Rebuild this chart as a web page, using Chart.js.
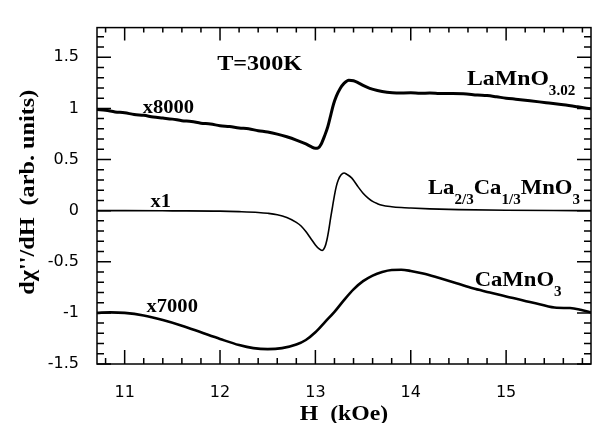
<!DOCTYPE html>
<html>
<head>
<meta charset="utf-8">
<script src="https://cdn.jsdelivr.net/npm/chart.js@4.4.1/dist/chart.umd.min.js"></script>
<style>
html, body { margin: 0; padding: 0; background: #fff; }
</style>
</head>
<body>
<canvas id="esr-chart" width="594" height="423"></canvas>
<script>
// field (kOe) and dchi''/dH for each sample, already scaled by the gain in the labels
const fieldLaMnO = [10.71, 10.8, 10.9, 11.0, 11.1, 11.2, 11.3, 11.4, 11.5, 11.6, 11.7, 11.8, 11.9, 12.0,
  12.1, 12.2, 12.3, 12.4, 12.5, 12.6, 12.7, 12.8, 12.9, 12.95, 13.0, 13.03, 13.06, 13.1, 13.13, 13.16,
  13.19, 13.22, 13.26, 13.3, 13.35, 13.4, 13.45, 13.5, 13.57, 13.65, 13.75, 13.85, 14.0, 14.1, 14.2,
  14.3, 14.4, 14.55, 14.7, 14.8, 14.9, 15.0, 15.1, 15.25, 15.42, 15.6, 15.75, 15.89];
const signalLaMnO = [0.99, 0.982, 0.965, 0.957, 0.94, 0.932, 0.915, 0.905, 0.895, 0.88, 0.872, 0.855, 0.848, 0.83,
  0.822, 0.808, 0.8, 0.782, 0.768, 0.748, 0.722, 0.69, 0.652, 0.628, 0.61, 0.614, 0.65, 0.74, 0.82, 0.93,
  1.04, 1.12, 1.195, 1.245, 1.275, 1.27, 1.25, 1.225, 1.196, 1.175, 1.158, 1.15, 1.152, 1.147, 1.15,
  1.146, 1.145, 1.143, 1.13, 1.125, 1.113, 1.1, 1.09, 1.075, 1.055, 1.035, 1.015, 0.995];

const fieldLaCa = [10.71, 11.0, 11.5, 12.0, 12.2, 12.4, 12.5, 12.6, 12.7, 12.8, 12.85, 12.9, 12.95, 13.0,
  13.04, 13.07, 13.1, 13.12, 13.14, 13.16, 13.18, 13.2, 13.22, 13.24, 13.27, 13.3, 13.33, 13.38, 13.45,
  13.5, 13.55, 13.6, 13.65, 13.7, 13.8, 13.9, 14.0, 14.2, 14.5, 15.0, 15.5, 15.89];
const signalLaCa = [0.0, 0.0, -0.002, -0.005, -0.01, -0.018, -0.026, -0.04, -0.068, -0.115, -0.15, -0.205, -0.27, -0.335,
  -0.375, -0.39, -0.355, -0.29, -0.19, -0.07, 0.04, 0.15, 0.24, 0.3, 0.35, 0.368, 0.355, 0.32, 0.23,
  0.17, 0.125, 0.09, 0.068, 0.052, 0.038, 0.03, 0.025, 0.017, 0.01, 0.004, 0.001, 0.0];

const fieldCaMnO = [10.71, 10.85, 11.0, 11.2, 11.4, 11.6, 11.8, 12.0, 12.2, 12.35, 12.5, 12.65, 12.8, 12.9,
  13.0, 13.1, 13.2, 13.3, 13.4, 13.5, 13.6, 13.7, 13.8, 13.9, 14.0, 14.13, 14.3, 14.48, 14.65, 14.83,
  15.0, 15.18, 15.35, 15.53, 15.67, 15.78, 15.89];
const signalCaMnO = [-1.0, -0.995, -1.0, -1.025, -1.07, -1.125, -1.19, -1.255, -1.315, -1.345, -1.355, -1.345, -1.31, -1.265,
  -1.19, -1.09, -0.99, -0.875, -0.77, -0.69, -0.635, -0.6, -0.58, -0.578, -0.59, -0.615, -0.66, -0.71, -0.76, -0.8,
  -0.84, -0.878, -0.915, -0.95, -0.953, -0.97, -0.997];

const xTickValues = [11, 12, 13, 14, 15];
const yTickValues = [-1.5, -1, -0.5, 0, 0.5, 1, 1.5];

const toPoints = (xs, ys) => xs.map((x, i) => ({x: x, y: ys[i]}));

// text next to the curves: [text, font size, baseline shift] runs, anchored in data units
const notes = [
  {x: 11.97, y: 1.378, sx: 1.15, runs: [["T=300K", 21, 0]]},
  {x: 11.19, y: 0.959, runs: [["x8000", 19, 0]]},
  {x: 11.27, y: 0.04, runs: [["x1", 19, 0]]},
  {x: 11.23, y: -0.99, runs: [["x7000", 19, 0]]},
  {x: 14.59, y: 1.231, runs: [["LaMnO", 22, 0], ["3.02", 14, 10]]},
  {x: 14.18, y: 0.162, runs: [["La", 21, 0], ["2/3", 14, 10], ["Ca", 21, 0], ["1/3", 14, 10], ["MnO", 21, 0], ["3", 14, 10]]},
  {x: 14.67, y: -0.74, runs: [["CaMnO", 21, 0], ["3", 14, 10]]}
];

const serif = "'Liberation Serif', 'Times New Roman', serif";
const stretch = 1.08;

const drawRuns = (ctx, x, y, runs, sx) => {
  ctx.save();
  ctx.translate(x, y);
  ctx.scale(sx, 1);
  let cx = 0;
  runs.forEach(r => {
    ctx.font = "bold " + r[1] + "px " + serif;
    ctx.fillText(r[0], cx, r[2]);
    cx += ctx.measureText(r[0]).width;
  });
  ctx.restore();
};

// box, inward ticks on all four sides, labels and axis titles
const framePlugin = {
  id: "frame",
  afterDraw(chart) {
    const ctx = chart.ctx;
    const a = chart.chartArea;
    const xs = chart.scales.x;
    const ys = chart.scales.y;
    ctx.save();
    ctx.strokeStyle = "#000";
    ctx.lineWidth = 1.5;
    ctx.strokeRect(a.left, a.top, a.right - a.left, a.bottom - a.top);

    ctx.beginPath();
    for (let i = -15; i <= 17; i++) {
      const py = ys.getPixelForValue(i / 10);
      const len = i % 5 === 0 ? 14 : 7;
      ctx.moveTo(a.left, py); ctx.lineTo(a.left + len, py);
      ctx.moveTo(a.right, py); ctx.lineTo(a.right - len, py);
    }
    for (let i = 108; i <= 158; i += 2) {
      const px = xs.getPixelForValue(i / 10);
      const major = i % 10 === 0;
      ctx.moveTo(px, a.bottom); ctx.lineTo(px, a.bottom - (major ? 14 : 6));
      ctx.moveTo(px, a.top); ctx.lineTo(px, a.top + (major ? 13 : 5));
    }
    ctx.stroke();

    ctx.fillStyle = "#000";
    ctx.textBaseline = "alphabetic";
    ctx.textAlign = "left";
    notes.forEach(n => {
      drawRuns(ctx, xs.getPixelForValue(n.x), ys.getPixelForValue(n.y), n.runs, n.sx || stretch);
    });

    // axis titles
    ctx.font = "bold 22px " + serif;
    ctx.textAlign = "center";
    ctx.save();
    ctx.translate(xs.getPixelForValue(13.3), a.bottom + 56);
    ctx.scale(stretch, 1);
    ctx.fillText("H  (kOe)", 0, 0);
    ctx.restore();

    ctx.save();
    ctx.translate(a.left - 63, ys.getPixelForValue(0.18));
    ctx.rotate(-Math.PI / 2);
    ctx.scale(1.1, 1);
    ctx.fillText("d\u03c7''/dH  (arb. units)", 0, 0);
    ctx.restore();
    ctx.restore();
  }
};

const tickFont = {family: "'DejaVu Sans', sans-serif", size: 16};

new Chart(document.getElementById("esr-chart"), {
  type: "scatter",
  data: {
    datasets: [
      {data: toPoints(fieldLaMnO, signalLaMnO), showLine: true, borderColor: "#000", borderWidth: 3, pointRadius: 0, cubicInterpolationMode: "monotone"},
      {data: toPoints(fieldLaCa, signalLaCa), showLine: true, borderColor: "#000", borderWidth: 1.6, pointRadius: 0, cubicInterpolationMode: "monotone"},
      {data: toPoints(fieldCaMnO, signalCaMnO), showLine: true, borderColor: "#000", borderWidth: 2.6, pointRadius: 0, cubicInterpolationMode: "monotone"}
    ]
  },
  options: {
    responsive: false,
    animation: false,
    layout: {padding: {top: 13, right: 3, left: 0, bottom: 0}},
    plugins: {legend: {display: false}, tooltip: {enabled: false}},
    scales: {
      x: {
        type: "linear", min: 10.71, max: 15.89,
        grid: {display: false, drawTicks: false}, border: {display: false},
        afterBuildTicks: s => { s.ticks = xTickValues.map(v => ({value: v})); },
        afterFit: s => { s.height = 59; },
        ticks: {font: tickFont, color: "#000", padding: 19, maxRotation: 0, autoSkip: false, callback: v => String(v)}
      },
      y: {
        type: "linear", min: -1.5, max: 1.79,
        grid: {display: false, drawTicks: false}, border: {display: false},
        afterBuildTicks: s => { s.ticks = yTickValues.map(v => ({value: v})); },
        afterFit: s => { s.width = 97; },
        ticks: {font: tickFont, color: "#000", padding: 18, autoSkip: false, callback: v => String(v)}
      }
    }
  },
  plugins: [framePlugin]
});
</script>
</body>
</html>
